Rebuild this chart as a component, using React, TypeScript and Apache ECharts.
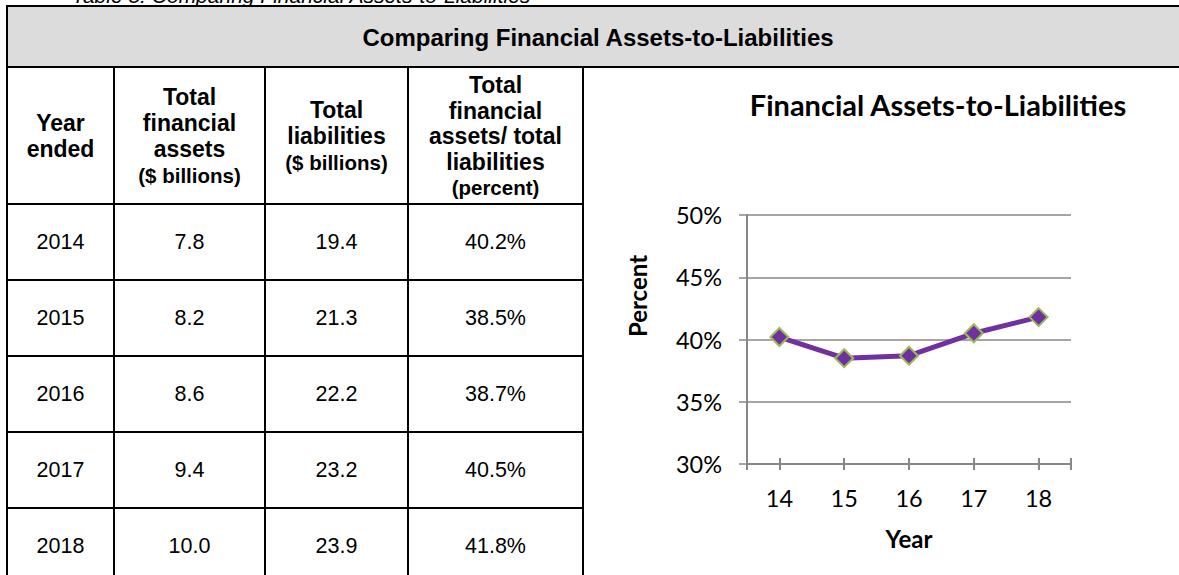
import React, { useEffect, useRef } from "react";
import * as echarts from "echarts";

// ---- data ----
const caption = "Table 5: Comparing Financial Assets-to-Liabilities";
const tableTitle = "Comparing Financial Assets-to-Liabilities";
const years = ["2014", "2015", "2016", "2017", "2018"];
const totalFinancialAssets = [7.8, 8.2, 8.6, 9.4, 10.0];
const totalLiabilities = [19.4, 21.3, 22.2, 23.2, 23.9];
const assetsToLiabilities = [40.2, 38.5, 38.7, 40.5, 41.8];
const colHeaders: string[][] = [
  ["Year", "ended"],
  ["Total", "financial", "assets", "($ billions)"],
  ["Total", "liabilities", "($ billions)"],
  ["Total", "financial", "assets/ total", "liabilities", "(percent)"],
];
const chartTitle = "Financial Assets-to-Liabilities";
const xTickLabels = ["14", "15", "16", "17", "18"];
const yAxisName = "Percent";
const xAxisName = "Year";
const yMin = 30;
const yMax = 50;
const yStep = 5;

const TABLE_FONT = '"Liberation Sans", Arial, sans-serif';
const CHART_FONT = 'Lato, "Noto Sans", sans-serif';

function buildGraphic() {
  const els: any[] = [];
  const colEdges = [7, 114, 265, 408, 583];
  const tableTop = 6;
  const headBottom = 67;
  const colHeadBottom = 204;
  const rowH = 76;
  const W = 1182;
  const H = 600;
  const lineStyle = { stroke: "#000", lineWidth: 2 };

  // caption (mostly hidden above the table, as in the source)
  els.push({
    type: "text",
    style: {
      text: caption,
      x: 72,
      y: 6,
      fill: "#000",
      font: 'italic 21px "Liberation Sans", Arial, sans-serif',
      verticalAlign: "bottom",
      align: "left",
    },
  });

  // header band
  els.push({
    type: "rect",
    shape: { x: colEdges[0], y: tableTop, width: W - colEdges[0], height: headBottom - tableTop },
    style: { fill: "#DCDCDC", stroke: null },
  });
  els.push({
    type: "text",
    style: {
      text: tableTitle,
      x: 598,
      y: 37,
      fill: "#000",
      font: `bold 24px ${TABLE_FONT}`,
      align: "center",
      verticalAlign: "middle",
    },
  });

  // horizontal lines
  const hLines = [tableTop, headBottom, colHeadBottom];
  for (let i = 1; i < years.length; i++) hLines.push(colHeadBottom + i * rowH);
  hLines.forEach((y, idx) => {
    const x2 = idx < 2 ? W : colEdges[colEdges.length - 1];
    els.push({
      type: "line",
      shape: { x1: colEdges[0] - 1, y1: y, x2, y2: y },
      style: lineStyle,
    });
  });
  // vertical lines
  colEdges.forEach((x, idx) => {
    els.push({
      type: "line",
      shape: { x1: x, y1: idx === 0 ? tableTop - 1 : headBottom, x2: x, y2: H },
      style: lineStyle,
    });
  });

  // column headers
  const lineHs = [26, 26, 26, 25.5];
  const headCenter = 136;
  colHeaders.forEach((lines, c) => {
    const cx = (colEdges[c] + colEdges[c + 1]) / 2;
    const lh = lineHs[c];
    const start = headCenter - ((lines.length - 1) * lh) / 2;
    lines.forEach((t, k) => {
      const small = t.startsWith("(");
      els.push({
        type: "text",
        style: {
          text: t,
          x: cx,
          y: start + k * lh,
          fill: "#000",
          font: `bold ${small ? 20.5 : 23}px ${TABLE_FONT}`,
          align: "center",
          verticalAlign: "middle",
        },
      });
    });
  });

  // data rows
  const cols = [
    years,
    totalFinancialAssets.map((v) => v.toFixed(1)),
    totalLiabilities.map((v) => v.toFixed(1)),
    assetsToLiabilities.map((v) => v.toFixed(1) + "%"),
  ];
  years.forEach((_, r) => {
    const cy = colHeadBottom + r * rowH + rowH / 2;
    cols.forEach((col, c) => {
      const cx = (colEdges[c] + colEdges[c + 1]) / 2;
      els.push({
        type: "text",
        style: {
          text: col[r],
          x: cx,
          y: cy,
          fill: "#000",
          font: `21.5px ${TABLE_FONT}`,
          align: "center",
          verticalAlign: "middle",
        },
      });
    });
  });

  // chart title and axis names
  els.push({
    type: "text",
    style: {
      text: chartTitle,
      x: 938,
      y: 104,
      fill: "#000",
      font: `bold 29px ${CHART_FONT}`,
      align: "center",
      verticalAlign: "middle",
    },
  });
  els.push({
    type: "text",
    x: 637,
    y: 296,
    rotation: Math.PI / 2,
    style: {
      text: yAxisName,
      x: 0,
      y: 0,
      fill: "#000",
      font: `bold 24px ${CHART_FONT}`,
      align: "center",
      verticalAlign: "middle",
    },
  });
  els.push({
    type: "text",
    style: {
      text: xAxisName,
      x: 909,
      y: 538,
      fill: "#000",
      font: `bold 24px ${CHART_FONT}`,
      align: "center",
      verticalAlign: "middle",
    },
  });
  return els;
}

export default function App() {
  const ref = useRef<HTMLDivElement>(null);
  useEffect(() => {
    document.body.style.margin = "0";
    if (!ref.current) return;
    const chart = echarts.init(ref.current, undefined, { renderer: "svg" });
    const xVals = xTickLabels.map((l) => Number(l));
    const xMin = xVals[0] - 0.5;
    const xMax = xVals[xVals.length - 1] + 0.5;
    const tickVals = [xMin, ...xVals, xMax];
    const gridH = 249;
    const axisColor = "#878787";
    chart.setOption({
      animation: false,
      backgroundColor: "#fff",
      grid: { left: 747, right: 108, top: 215, bottom: 111, containLabel: false, outerBoundsMode: "none" },
      xAxis: [
        {
          type: "value",
          min: xMin,
          max: xMax,
          position: "bottom",
          axisLine: { show: true, lineStyle: { color: axisColor, width: 2 } },
          axisTick: { show: true, customValues: tickVals, length: 6, lineStyle: { color: axisColor, width: 2 } },
          axisLabel: {
            customValues: xVals,
            formatter: (v: number) => String(v),
            color: "#000",
            fontFamily: CHART_FONT,
            fontSize: 23.5,
            margin: 22,
          },
          splitLine: { show: false },
        },
        {
          type: "value",
          min: xMin,
          max: xMax,
          position: "top",
          offset: -gridH,
          axisLine: { show: false },
          axisTick: { show: true, customValues: tickVals, length: 6, lineStyle: { color: axisColor, width: 2 } },
          axisLabel: { show: false },
          splitLine: { show: false },
        },
      ],
      yAxis: {
        type: "value",
        min: yMin,
        max: yMax,
        interval: yStep,
        axisLine: { show: true, lineStyle: { color: axisColor, width: 2 } },
        axisTick: { show: true, length: 8, lineStyle: { color: axisColor, width: 1.5 } },
        axisLabel: {
          formatter: "{value}%",
          color: "#000",
          fontFamily: CHART_FONT,
          fontSize: 23.5,
          margin: 25,
        },
        splitLine: { show: true, lineStyle: { color: axisColor, width: 1.5 } },
      },
      series: [
        {
          type: "line",
          xAxisIndex: 0,
          data: xVals.map((x, i) => [x, assetsToLiabilities[i]]),
          lineStyle: { color: "#7030A0", width: 5 },
          symbol: "diamond",
          symbolSize: 18,
          itemStyle: { color: "#7030A0", borderColor: "#9BBB59", borderWidth: 2 },
          z: 5,
        },
      ],
      graphic: buildGraphic(),
    });
    return () => chart.dispose();
  }, []);
  return <div ref={ref} style={{ width: 1179, height: 575 }} />;
}
